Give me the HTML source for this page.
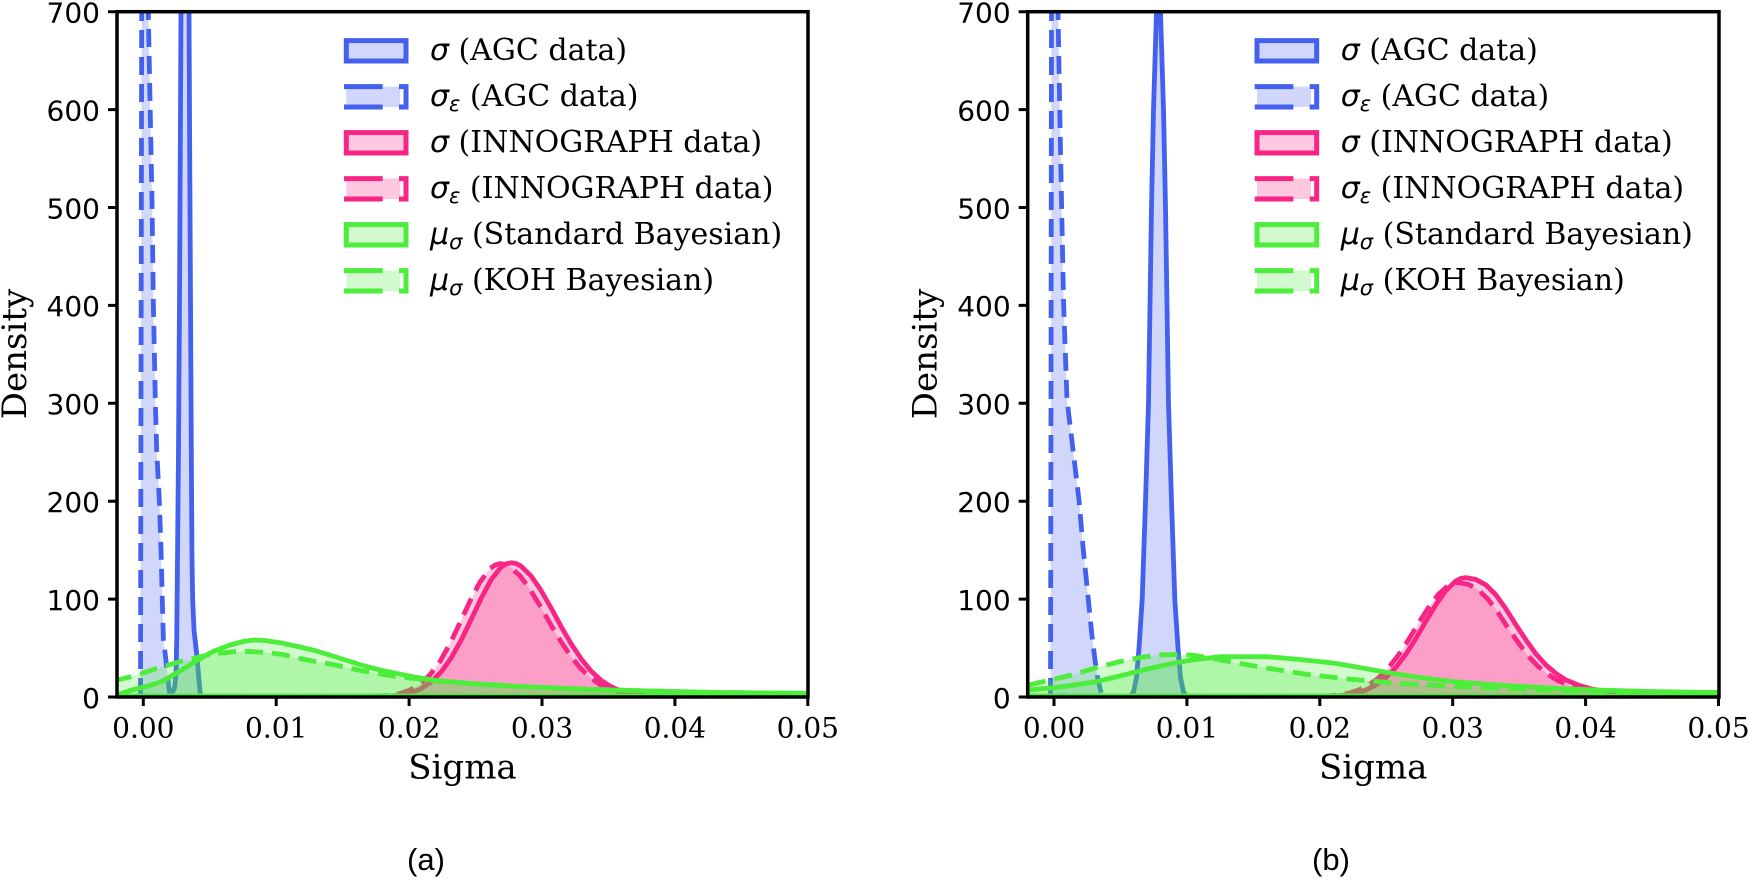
<!DOCTYPE html>
<html>
<head>
<meta charset="utf-8">
<style>
html,body{margin:0;padding:0;background:#fff;}
svg{display:block;}
.ty{font-family:"DejaVu Sans","Liberation Sans",sans-serif;font-size:28px;fill:#000;}
.tx{font-family:"DejaVu Serif","Liberation Serif",serif;font-size:28px;fill:#000;}
.lab{font-family:"DejaVu Serif","Liberation Serif",serif;font-size:34px;fill:#000;}
.lg{font-family:"DejaVu Serif","Liberation Serif",serif;font-size:30px;fill:#000;}
.m{font-family:"DejaVu Sans","Liberation Sans",sans-serif;font-style:italic;}
.cap{font-family:"Liberation Sans",Arial,sans-serif;font-size:31px;fill:#000;}
</style>
</head>
<body>
<svg width="1750" height="880" viewBox="0 0 1750 880" xmlns="http://www.w3.org/2000/svg">
<defs>
<clipPath id="ca"><rect x="117" y="11.7" width="691" height="685.3"/></clipPath>
<clipPath id="cb"><rect x="1027.7" y="11.7" width="691.3" height="685.3"/></clipPath>
</defs>
<rect width="1750" height="880" fill="#fff"/>

<!-- ============ PLOT (a) data ============ -->
<g clip-path="url(#ca)" stroke-width="4.8" stroke-linejoin="round">
<path fill="#4361ee" fill-opacity="0.25" stroke="#4361ee" d="M169,696 L172,693.5 L174.5,688 L176,675 L176.7,640 L177.3,580 L178.5,450 L179.5,300 L180.3,150 L181,11 L182,-40 L188,-40 L189,11 L189.7,150 L190.5,300 L191.3,450 L192,560 L192.7,600 L194,630 L197,657 L199,680 L200,691 L201,696 Z"/>
<path fill="#4361ee" fill-opacity="0.25" stroke="#4361ee" stroke-dasharray="18 9" d="M140.5,696 L141,400 L141.7,11 L142,-40 L147,-40 L148.3,11.7 L150,100 L152,200 L153.3,300 L155.3,400 L156.7,450 L159.3,500 L161,550 L162.3,600 L163.4,640 L165.6,657 L167.6,677 L170,696 Z"/>
<path fill="#f72585" fill-opacity="0.25" stroke="#f72585" d="M381,696 L391,696.1 L401,694.9 L411,692.7 L421,688.8 L431,682.1 L441,672.1 L451,658.2 L461,640.4 L471,619.8 L481,598.6 L491,579.9 L501,567.2 L506,563.8 L511,562.8 L516,563.5 L521,566.1 L531,575.8 L541,590.4 L551,607.8 L561,626.3 L571,643.6 L581,658.6 L591,671 L601,680.2 L611,686.7 L621,691 L631,693.7 L641,695.2 L651,696 Z"/>
<path fill="#f72585" fill-opacity="0.25" stroke="#f72585" stroke-dasharray="18 9" d="M370,696 L380,696 L390,695.4 L400,693.6 L410,690 L420,684.2 L430,674.8 L440,661.4 L450,643.6 L460,622.7 L470,601.2 L480,582 L490,568.7 L495,565 L500,563.6 L505,564.6 L510,566.9 L520,575.8 L530,589.3 L540,605.8 L550,623.3 L560,640.1 L570,655.2 L580,667.7 L590,677.4 L600,684.5 L610,689.4 L620,692.6 L630,694.6 L640,695.7 L650,696 Z"/>
<path fill="#4ded3b" fill-opacity="0.25" stroke="#4ded3b" d="M100,696 L100,696 L117,695 L130,690.5 L140,688 L150,685.5 L163,681 L180,671 L197,660.5 L213,651.5 L230,645 L245,641 L255,640 L265,640.5 L283,643.3 L300,647 L313,650 L333,656 L347,660.5 L363,665.5 L380,670 L397,673.5 L413,676.7 L433,680 L470,683.5 L520,686.5 L580,689 L650,691 L720,692.5 L820,693.5 L820,696 Z"/>
<path fill="#4ded3b" fill-opacity="0.25" stroke="#4ded3b" stroke-dasharray="18 9" d="M100,696 L100,683 L117,680 L130,677 L140,674 L150,670.5 L163,666.7 L180,661.5 L197,657.5 L215,653.5 L235,651.7 L250,651.5 L265,652.5 L283,654.5 L297,658 L315,661.5 L333,664.5 L363,671 L397,676.7 L433,680.5 L470,683.5 L520,686.5 L580,689 L650,691 L720,692.5 L820,693.5 L820,696 Z"/>
</g>

<!-- ============ PLOT (b) data ============ -->
<g clip-path="url(#cb)" stroke-width="4.8" stroke-linejoin="round">
<path fill="#4361ee" fill-opacity="0.25" stroke="#4361ee" d="M1130.5,696 L1133.5,692.1 L1136.5,677.4 L1139,648 L1142.2,599.1 L1145.5,501.2 L1148.5,403.3 L1150,305.4 L1151.5,207.5 L1153.5,109.6 L1156.5,11.7 L1158.5,-8 L1160.5,11.7 L1163.5,109.6 L1165.5,207.5 L1167,305.4 L1168.5,403.3 L1171.5,501.2 L1174.8,599.1 L1178,648 L1180.5,677.4 L1183.5,692.1 L1186.5,696 Z"/>
<path fill="#4361ee" fill-opacity="0.25" stroke="#4361ee" stroke-dasharray="18 9" d="M1050.5,696 L1051,400 L1051.5,11 L1052,-40 L1057,-40 L1058,11.7 L1060.5,150 L1063.5,300 L1067,400 L1071,433 L1075,466.7 L1079,500 L1083.3,550 L1086.7,583.3 L1091.7,633.3 L1095,660 L1098,680 L1102,696 Z"/>
<path fill="#f72585" fill-opacity="0.25" stroke="#f72585" d="M1326,696 L1336,696 L1346,695 L1356,693.1 L1366,690 L1376,685 L1386,677.5 L1396,667.2 L1406,654 L1416,638.2 L1426,621 L1436,604.5 L1446,590.4 L1456,580.9 L1461,578.4 L1466,577.6 L1476,579.5 L1486,585 L1496,595 L1506,609 L1516,625 L1526,640 L1536,654 L1546,665 L1556,673.5 L1566,680 L1578,685 L1592,689 L1608,692 L1625,695 L1640,696 Z"/>
<path fill="#f72585" fill-opacity="0.25" stroke="#f72585" stroke-dasharray="18 9" d="M1318,696 L1328,696 L1338,695.1 L1348,693.3 L1358,690.3 L1368,685.5 L1378,678.3 L1388,668.4 L1398,655.8 L1408,640.6 L1418,624.1 L1428,608.3 L1438,594.8 L1448,585.7 L1453,583.3 L1458,582.5 L1468,584.3 L1478,589.6 L1488,599.2 L1498,612.6 L1508,628 L1518,642.3 L1528,655.8 L1538,666.3 L1548,674.5 L1558,680.7 L1570,685.5 L1584,689.3 L1600,692.2 L1617,695.1 L1632,696 Z"/>
<path fill="#4ded3b" fill-opacity="0.25" stroke="#4ded3b" d="M1010,696 L1010,691 L1028.7,690 L1060,687 L1095.7,681.7 L1120,676 L1143.5,670 L1167,664.5 L1191.4,660 L1220,656.7 L1268,656.7 L1300,659.5 L1335,663.3 L1365,668.5 L1392,673.3 L1420,677.5 L1454.5,681.7 L1490,684.5 L1526,686.7 L1560,688.5 L1598,690 L1650,691.5 L1730,692.7 L1730,696 Z"/>
<path fill="#4ded3b" fill-opacity="0.25" stroke="#4ded3b" stroke-dasharray="18 9" d="M1010,696 L1010,687 L1028.7,685 L1050,680 L1071.8,675 L1095,668 L1119.6,661.7 L1140,657.5 L1157.9,655 L1175,654.5 L1191.4,655 L1210,658 L1229.7,661.7 L1268,668.3 L1311,675 L1358.9,680 L1395,683 L1430.6,685 L1465,687 L1502.4,688.3 L1574,690.7 L1650,692 L1730,692.7 L1730,696 Z"/>
</g>

<!-- ============ Axes decorations (a) ============ -->
<g>
<path stroke="#000" stroke-width="3" fill="none" d="M108,697H117 M108,599.1H117 M108,501.2H117 M108,403.3H117 M108,305.4H117 M108,207.5H117 M108,109.6H117 M108,11.7H117 M143.3,697V706 M276.2,697V706 M409.1,697V706 M542,697V706 M674.9,697V706 M807.8,697V706"/>
<rect x="117" y="11.7" width="691" height="685.3" fill="none" stroke="#000" stroke-width="3.5"/>
<g class="ty" text-anchor="end">
<text x="100" y="707.8">0</text>
<text x="100" y="609.9">100</text>
<text x="100" y="512">200</text>
<text x="100" y="414.1">300</text>
<text x="100" y="316.2">400</text>
<text x="100" y="218.3">500</text>
<text x="100" y="120.4">600</text>
<text x="100" y="22.5">700</text>
</g>
<g class="tx" text-anchor="middle">
<text x="143.3" y="737.3">0.00</text>
<text x="276.2" y="737.3">0.01</text>
<text x="409.1" y="737.3">0.02</text>
<text x="542" y="737.3">0.03</text>
<text x="674.9" y="737.3">0.04</text>
<text x="807.8" y="737.3">0.05</text>
</g>
<text class="lab" x="462.5" y="778.3" text-anchor="middle">Sigma</text>
<text class="lab" transform="translate(26,354) rotate(-90)" text-anchor="middle">Density</text>
<g stroke-width="5">
<rect x="346.3" y="40.6" width="59.7" height="20.4" fill="#4361ee" fill-opacity="0.25" stroke="#4361ee"/>
<rect x="346.3" y="86.6" width="54" height="20.4" fill="#4361ee" fill-opacity="0.25" stroke="none"/>
<path fill="none" stroke="#4361ee" d="M344,86.6H382.7 M344,107H382.7 M399,86.6H406V107H399"/>
<rect x="346.3" y="132.6" width="59.7" height="20.4" fill="#f72585" fill-opacity="0.25" stroke="#f72585"/>
<rect x="346.3" y="178.6" width="54" height="20.4" fill="#f72585" fill-opacity="0.25" stroke="none"/>
<path fill="none" stroke="#f72585" d="M344,178.6H382.7 M344,199H382.7 M399,178.6H406V199H399"/>
<rect x="346.3" y="224.6" width="59.7" height="20.4" fill="#4ded3b" fill-opacity="0.25" stroke="#4ded3b"/>
<rect x="346.3" y="270.6" width="54" height="20.4" fill="#4ded3b" fill-opacity="0.25" stroke="none"/>
<path fill="none" stroke="#4ded3b" d="M344,270.6H382.7 M344,291H382.7 M399,270.6H406V291H399"/>
</g>
<g class="lg">
<text x="430" y="59.8"><tspan class="m">σ</tspan> (AGC data)</text>
<text x="430" y="105.8"><tspan class="m">σ</tspan><tspan class="m" font-size="21" dy="5">ε</tspan><tspan dy="-5"> (AGC data)</tspan></text>
<text x="430" y="151.8"><tspan class="m">σ</tspan> (INNOGRAPH data)</text>
<text x="430" y="197.8"><tspan class="m">σ</tspan><tspan class="m" font-size="21" dy="5">ε</tspan><tspan dy="-5"> (INNOGRAPH data)</tspan></text>
<text x="430" y="243.8"><tspan class="m">μ</tspan><tspan class="m" font-size="21" dy="5">σ</tspan><tspan dy="-5"> (Standard Bayesian)</tspan></text>
<text x="430" y="289.8"><tspan class="m">μ</tspan><tspan class="m" font-size="21" dy="5">σ</tspan><tspan dy="-5"> (KOH Bayesian)</tspan></text>
</g>
</g>

<!-- ============ Axes decorations (b) ============ -->
<g transform="translate(910.7,0)">
<path stroke="#000" stroke-width="3" fill="none" d="M108,697H117 M108,599.1H117 M108,501.2H117 M108,403.3H117 M108,305.4H117 M108,207.5H117 M108,109.6H117 M108,11.7H117 M143.3,697V706 M276.2,697V706 M409.1,697V706 M542,697V706 M674.9,697V706 M807.8,697V706"/>
<rect x="117" y="11.7" width="691.3" height="685.3" fill="none" stroke="#000" stroke-width="3.5"/>
<g class="ty" text-anchor="end">
<text x="100" y="707.8">0</text>
<text x="100" y="609.9">100</text>
<text x="100" y="512">200</text>
<text x="100" y="414.1">300</text>
<text x="100" y="316.2">400</text>
<text x="100" y="218.3">500</text>
<text x="100" y="120.4">600</text>
<text x="100" y="22.5">700</text>
</g>
<g class="tx" text-anchor="middle">
<text x="143.3" y="737.3">0.00</text>
<text x="276.2" y="737.3">0.01</text>
<text x="409.1" y="737.3">0.02</text>
<text x="542" y="737.3">0.03</text>
<text x="674.9" y="737.3">0.04</text>
<text x="807.8" y="737.3">0.05</text>
</g>
<text class="lab" x="462.5" y="778.3" text-anchor="middle">Sigma</text>
<text class="lab" transform="translate(26,354) rotate(-90)" text-anchor="middle">Density</text>
<g stroke-width="5">
<rect x="346.3" y="40.6" width="59.7" height="20.4" fill="#4361ee" fill-opacity="0.25" stroke="#4361ee"/>
<rect x="346.3" y="86.6" width="54" height="20.4" fill="#4361ee" fill-opacity="0.25" stroke="none"/>
<path fill="none" stroke="#4361ee" d="M344,86.6H382.7 M344,107H382.7 M399,86.6H406V107H399"/>
<rect x="346.3" y="132.6" width="59.7" height="20.4" fill="#f72585" fill-opacity="0.25" stroke="#f72585"/>
<rect x="346.3" y="178.6" width="54" height="20.4" fill="#f72585" fill-opacity="0.25" stroke="none"/>
<path fill="none" stroke="#f72585" d="M344,178.6H382.7 M344,199H382.7 M399,178.6H406V199H399"/>
<rect x="346.3" y="224.6" width="59.7" height="20.4" fill="#4ded3b" fill-opacity="0.25" stroke="#4ded3b"/>
<rect x="346.3" y="270.6" width="54" height="20.4" fill="#4ded3b" fill-opacity="0.25" stroke="none"/>
<path fill="none" stroke="#4ded3b" d="M344,270.6H382.7 M344,291H382.7 M399,270.6H406V291H399"/>
</g>
<g class="lg">
<text x="430" y="59.8"><tspan class="m">σ</tspan> (AGC data)</text>
<text x="430" y="105.8"><tspan class="m">σ</tspan><tspan class="m" font-size="21" dy="5">ε</tspan><tspan dy="-5"> (AGC data)</tspan></text>
<text x="430" y="151.8"><tspan class="m">σ</tspan> (INNOGRAPH data)</text>
<text x="430" y="197.8"><tspan class="m">σ</tspan><tspan class="m" font-size="21" dy="5">ε</tspan><tspan dy="-5"> (INNOGRAPH data)</tspan></text>
<text x="430" y="243.8"><tspan class="m">μ</tspan><tspan class="m" font-size="21" dy="5">σ</tspan><tspan dy="-5"> (Standard Bayesian)</tspan></text>
<text x="430" y="289.8"><tspan class="m">μ</tspan><tspan class="m" font-size="21" dy="5">σ</tspan><tspan dy="-5"> (KOH Bayesian)</tspan></text>
</g>
</g>

<text class="cap" x="426" y="870" text-anchor="middle">(a)</text>
<text class="cap" x="1331" y="870" text-anchor="middle">(b)</text>
</svg>
</body>
</html>
